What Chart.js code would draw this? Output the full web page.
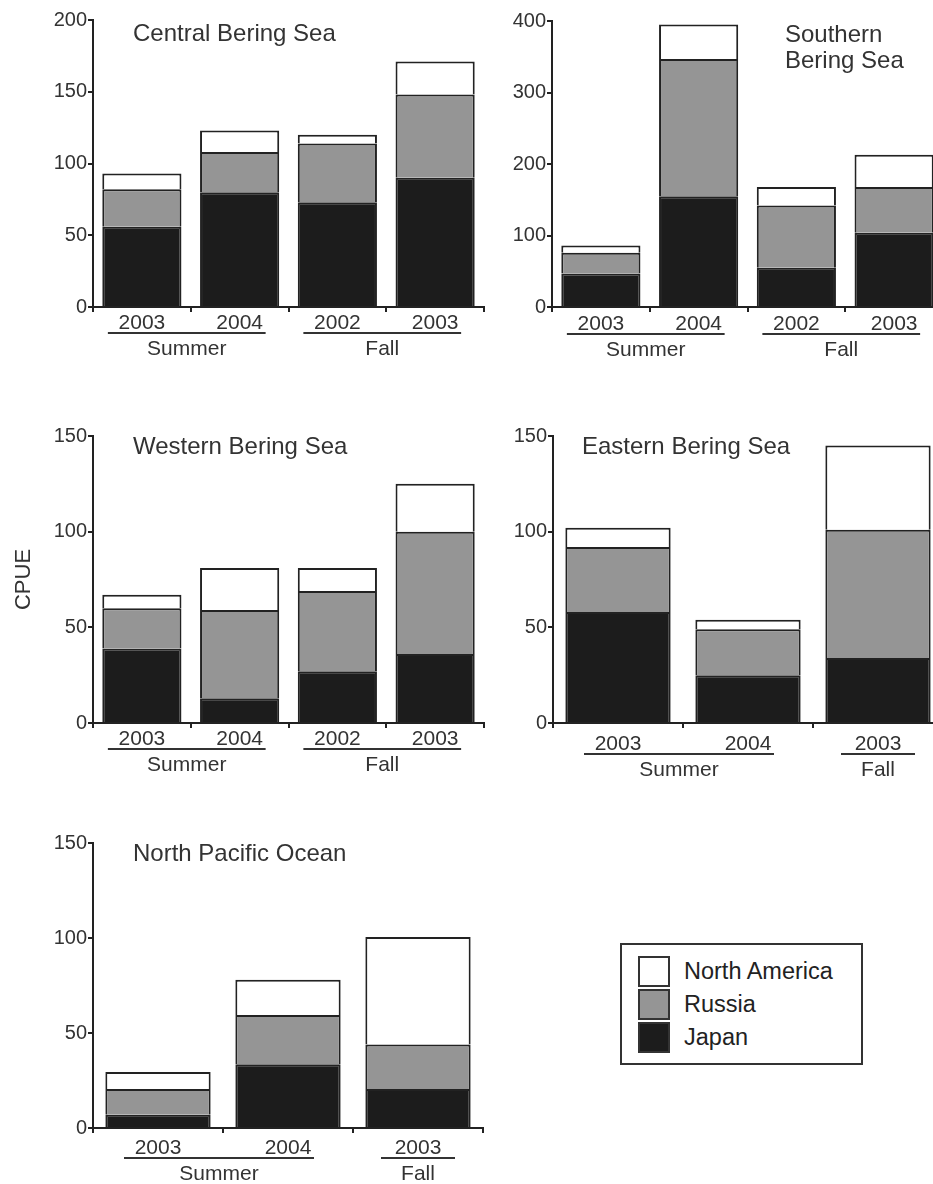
<!DOCTYPE html>
<html>
<head>
<meta charset="utf-8">
<script src="https://cdn.jsdelivr.net/npm/chart.js@4/dist/chart.umd.min.js"></script>
<style>
html,body{margin:0;padding:0;background:#fff;overflow:hidden;width:933px;height:1184px;}
canvas{position:absolute;}
#legend{position:absolute;left:620px;top:943px;width:243px;height:122px;border:2px solid #333;box-sizing:border-box;
  font-family:"Liberation Sans",Arial,Helvetica,sans-serif;font-size:23.5px;color:#222;}
.item{position:absolute;left:16px;height:31px;}
.sw{position:absolute;left:0;top:0;width:32px;height:31px;box-sizing:border-box;border:2px solid #333;}
.lab{position:absolute;left:46px;top:0;line-height:31px;white-space:nowrap;}
</style>
</head>
<body>
<canvas id="c1" width="490" height="380" style="left:0px;top:0px"></canvas>
<canvas id="c2" width="480" height="380" style="left:470px;top:0px"></canvas>
<canvas id="c3" width="490" height="390" style="left:0px;top:400px"></canvas>
<canvas id="c4" width="480" height="390" style="left:470px;top:400px"></canvas>
<canvas id="c5" width="490" height="374" style="left:0px;top:810px"></canvas>
<div id="legend"></div>
<script>
// ---------- data ----------
const seriesNames = ['Japan', 'Russia', 'North America'];
const seriesColors = ['#1c1c1c', '#959595', '#ffffff'];

const centralYears = ['2003', '2004', '2002', '2003'];
const centralJapan = [56, 80, 73, 90];
const centralRussia = [26, 28, 41, 58];
const centralNorthAmerica = [11, 15, 6, 23];

const southernYears = ['2003', '2004', '2002', '2003'];
const southernJapan = [47, 155, 55, 104];
const southernRussia = [29, 192, 87, 64];
const southernNorthAmerica = [10, 48, 26, 45];

const westernYears = ['2003', '2004', '2002', '2003'];
const westernJapan = [39, 13, 27, 36];
const westernRussia = [21, 46, 42, 64];
const westernNorthAmerica = [7, 22, 12, 25];

const easternYears = ['2003', '2004', '2003'];
const easternJapan = [58, 25, 34];
const easternRussia = [34, 24, 67];
const easternNorthAmerica = [10, 5, 44];

const pacificYears = ['2003', '2004', '2003'];
const pacificJapan = [7, 33.5, 20.5];
const pacificRussia = [13.5, 26, 23.5];
const pacificNorthAmerica = [9, 18.5, 56.5];

const seasonsFour = [{label: 'Summer', from: 0, to: 1}, {label: 'Fall', from: 2, to: 3}];
const seasonsThree = [{label: 'Summer', from: 0, to: 1}, {label: 'Fall', from: 2, to: 2}];

const yMaxCentral = 200, yStepCentral = 50;
const yMaxSouthern = 400, yStepSouthern = 100;
const yMaxOther = 150, yStepOther = 50;

// ---------- layout / style ----------
const FONT = '"Liberation Sans", Arial, Helvetica, sans-serif';
const INK = '#222';
const TEXT = '#333';

const panels = [
  {id: 'c1', cx: 0, cy: 0, w: 490, h: 380, area: {l: 93, t: 20, r: 484, b: 307},
   title: ['Central Bering Sea'], tx: 133, ty: 34, years: centralYears,
   values: [centralJapan, centralRussia, centralNorthAmerica], max: yMaxCentral, step: yStepCentral,
   groups: seasonsFour, shift: 0},
  {id: 'c2', cx: 470, cy: 0, w: 480, h: 380, area: {l: 552, t: 21, r: 943, b: 307},
   title: ['Southern', 'Bering Sea'], tx: 785, ty: 35, years: southernYears,
   values: [southernJapan, southernRussia, southernNorthAmerica], max: yMaxSouthern, step: yStepSouthern,
   groups: seasonsFour, shift: 1},
  {id: 'c3', cx: 0, cy: 400, w: 490, h: 390, area: {l: 93, t: 436, r: 484, b: 723},
   title: ['Western Bering Sea'], tx: 133, ty: 447, years: westernYears,
   values: [westernJapan, westernRussia, westernNorthAmerica], max: yMaxOther, step: yStepOther,
   groups: seasonsFour, shift: 0, yTitle: 'CPUE'},
  {id: 'c4', cx: 470, cy: 400, w: 480, h: 390, area: {l: 553, t: 436, r: 943, b: 723},
   title: ['Eastern Bering Sea'], tx: 582, ty: 447, years: easternYears,
   values: [easternJapan, easternRussia, easternNorthAmerica], max: yMaxOther, step: yStepOther,
   groups: seasonsThree, shift: 5},
  {id: 'c5', cx: 0, cy: 810, w: 490, h: 374, area: {l: 93, t: 843, r: 483, b: 1128},
   title: ['North Pacific Ocean'], tx: 133, ty: 854, years: pacificYears,
   values: [pacificJapan, pacificRussia, pacificNorthAmerica], max: yMaxOther, step: yStepOther,
   groups: seasonsThree, shift: 4}
];

const decor = {
  id: 'decor',
  afterDraw(chart, args, opts) {
    const ctx = chart.ctx, xs = chart.scales.x, area = chart.chartArea;
    ctx.save();
    ctx.fillStyle = TEXT; ctx.strokeStyle = TEXT;
    ctx.font = '24px ' + FONT; ctx.textAlign = 'left'; ctx.textBaseline = 'middle';
    opts.title.forEach((line, i) => ctx.fillText(line, opts.tx, opts.ty + i * 26));
    opts.groups.forEach(g => {
      const single = g.from === g.to;
      const x1 = xs.getPixelForValue(g.from) - (single ? 37 : 34);
      const x2 = xs.getPixelForValue(g.to) + (single ? 37 : 26);
      const yl = area.bottom + 26 + opts.shift;
      ctx.lineWidth = 2;
      ctx.beginPath(); ctx.moveTo(x1, yl); ctx.lineTo(x2, yl); ctx.stroke();
      ctx.font = '21px ' + FONT; ctx.textAlign = 'center';
      ctx.fillText(g.label, (x1 + x2) / 2, area.bottom + 42 + opts.shift);
    });
    ctx.restore();
  }
};

panels.forEach(p => {
  const leftW = p.area.l - p.cx;
  const bottomH = (p.cy + p.h) - p.area.b;
  const datasets = seriesNames.map((name, i) => ({
    label: name,
    data: p.values[i],
    backgroundColor: seriesColors[i],
    borderColor: INK,
    borderWidth: 2,
    barPercentage: 0.81,
    categoryPercentage: 1.0
  }));
  new Chart(document.getElementById(p.id), {
    type: 'bar',
    data: {labels: p.years, datasets},
    options: {
      responsive: false, animation: false, devicePixelRatio: 1,
      layout: {padding: {top: p.area.t - p.cy, right: (p.cx + p.w) - p.area.r, bottom: 0, left: 0}},
      plugins: {
        legend: {display: false}, tooltip: {enabled: false},
        decor: {title: p.title, tx: p.tx - p.cx, ty: p.ty - p.cy, groups: p.groups, shift: p.shift}
      },
      scales: {
        x: {
          stacked: true,
          grid: {display: true, drawOnChartArea: false, drawTicks: true, tickLength: 5, color: INK, lineWidth: 2, offset: true},
          border: {display: true, color: INK, width: 2},
          ticks: {font: {family: FONT, size: 21}, color: TEXT, padding: -1 + p.shift, maxRotation: 0, autoSkip: false},
          afterFit: s => { s.height = bottomH; }
        },
        y: {
          stacked: true, min: 0, max: p.max,
          grid: {display: true, drawOnChartArea: false, drawTicks: true, tickLength: 5, color: INK, lineWidth: 2},
          border: {display: true, color: INK, width: 2},
          ticks: {stepSize: p.step, font: {family: FONT, size: 20}, color: TEXT, padding: 1},
          title: p.yTitle ? {display: true, text: p.yTitle, font: {family: FONT, size: 22}, color: TEXT, padding: {top: 11, bottom: 0}} : {display: false},
          afterFit: s => { s.width = leftW; }
        }
      }
    },
    plugins: [decor]
  });
});

// ---------- legend (HTML) ----------
const legend = document.getElementById('legend');
const legendOrder = [2, 1, 0];
legendOrder.forEach((si, k) => {
  const it = document.createElement('div');
  it.className = 'item';
  it.style.top = (11 + k * 33) + 'px';
  const sw = document.createElement('div');
  sw.className = 'sw';
  sw.style.background = seriesColors[si];
  const lb = document.createElement('div');
  lb.className = 'lab';
  lb.textContent = seriesNames[si];
  it.appendChild(sw); it.appendChild(lb);
  legend.appendChild(it);
});
</script>
</body>
</html>
